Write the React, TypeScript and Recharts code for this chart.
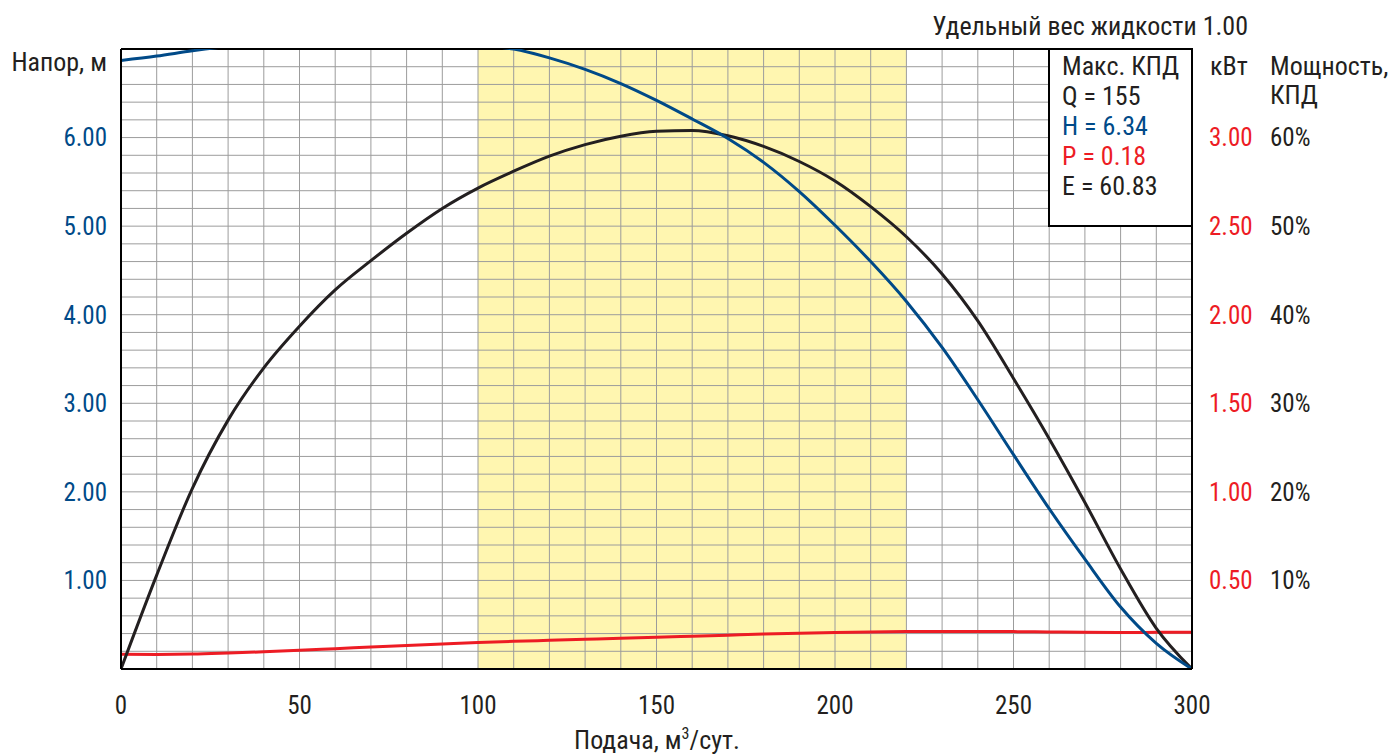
import React from 'react'
import { ComposedChart, Line, XAxis, YAxis, CartesianGrid, ReferenceLine } from 'recharts'

// подача, м3/сут.
const flow = [0, 10, 20, 30, 40, 50, 60, 70, 80, 90, 100, 110, 120, 130, 140, 150, 160, 170, 180, 190, 200, 210, 220, 230, 240, 250, 260, 270, 280, 290, 300]
// напор, м
const head = [6.87, 6.92, 6.98, 7.03, 7.07, 7.1, 7.12, 7.12, 7.11, 7.08, 7.04, 7.0, 6.9, 6.77, 6.61, 6.42, 6.21, 5.99, 5.72, 5.39, 5.01, 4.6, 4.15, 3.63, 3.04, 2.42, 1.81, 1.24, 0.7, 0.29, 0]
// мощность, кВт
const power = [0.083, 0.082, 0.084, 0.09, 0.097, 0.106, 0.115, 0.124, 0.133, 0.141, 0.149, 0.156, 0.162, 0.168, 0.174, 0.179, 0.185, 0.191, 0.197, 0.202, 0.206, 0.209, 0.211, 0.212, 0.212, 0.211, 0.209, 0.207, 0.206, 0.207, 0.208]
// КПД, %
const eff = [0, 10.6, 20.4, 28.1, 34, 38.7, 42.8, 46.1, 49.2, 52, 54.3, 56.2, 57.9, 59.2, 60.15, 60.7, 60.8, 60.2, 59, 57.3, 55.1, 52.2, 48.8, 44.6, 39.3, 32.8, 26, 18.8, 11.3, 4.6, 0]

const xTicks = Array.from({ length: 31 }, (_, i) => i * 10)
const headTicks = Array.from({ length: 36 }, (_, i) => +(i * 0.2).toFixed(1))
const kwTicks = [0.5, 1, 1.5, 2, 2.5, 3]
const pctTicks = [10, 20, 30, 40, 50, 60]
const workRange = [100, 220]

const legendLines = [
  { text: 'Макс. КПД', color: '#231f20' },
  { text: 'Q = 155', color: '#231f20' },
  { text: 'H = 6.34', color: '#004a88' },
  { text: 'P = 0.18', color: '#ed1c24' },
  { text: 'E = 60.83', color: '#231f20' },
]

const rows = flow.map((q, i) => ({ q, head: head[i], power: power[i], eff: eff[i] }))

// полоса рабочего диапазона — заливка клеток сетки между делениями 100 и 220
const stripeFill = xTicks.map(t => (t >= workRange[0] && t < workRange[1] ? '#fff6b0' : '#ffffff'))

const FONT = "'Liberation Sans Narrow', 'Roboto Condensed', 'Arial Narrow', Roboto, sans-serif"
const BLUE = '#004a88'
const RED = '#ed1c24'
const INK = '#231f20'
const tickFont = { fontSize: 25, fontFamily: FONT }

export default function App() {
  return (
    <div style={{ position: 'absolute', left: 0, top: 0, width: 1395, height: 754, background: '#fff' }}>
      <ComposedChart width={1395} height={754} data={rows} margin={{ top: 49, right: 0, bottom: 0, left: 0 }}>
        <CartesianGrid yAxisId="h" stroke="#9c9c9c" strokeWidth={1} verticalFill={stripeFill} fillOpacity={1} />
        <XAxis dataKey="q" type="number" domain={[0, 300]} ticks={xTicks} interval={0} allowDataOverflow
          tickFormatter={v => (v % 50 === 0 ? String(v) : '')}
          height={85} tickLine={false} tickSize={0} tickMargin={27}
          axisLine={{ stroke: '#000', strokeWidth: 2 }} tick={{ ...tickFont, fill: INK }} />
        <YAxis yAxisId="h" orientation="left" width={121} domain={[0, 7]} ticks={headTicks} interval={0} allowDataOverflow
          tickFormatter={v => (v % 1 === 0 && v > 0 && v < 7 ? Number(v).toFixed(2) : '')}
          tickLine={false} tickSize={0} tickMargin={14}
          axisLine={{ stroke: '#000', strokeWidth: 2 }} tick={{ ...tickFont, fill: BLUE }} />
        <YAxis yAxisId="kw" orientation="right" width={78} domain={[0, 3.5]} ticks={kwTicks} interval={0} allowDataOverflow
          tickFormatter={v => Number(v).toFixed(2)}
          tickLine={false} tickSize={0} tickMargin={17}
          axisLine={{ stroke: '#000', strokeWidth: 2 }} tick={{ ...tickFont, fill: RED }} />
        <YAxis yAxisId="pct" orientation="right" width={125} domain={[0, 70]} ticks={pctTicks} interval={0} allowDataOverflow
          tickFormatter={v => `${v}%`}
          tickLine={false} tickSize={0} tickMargin={0}
          axisLine={false} tick={{ ...tickFont, fill: INK }} />
        <ReferenceLine yAxisId="h" y={7} stroke="#000" strokeWidth={2} />
        <Line yAxisId="kw" dataKey="power" type="monotone" stroke={RED} strokeWidth={3} dot={false} isAnimationActive={false} />
        <Line yAxisId="pct" dataKey="eff" type="monotone" stroke={INK} strokeWidth={3} dot={false} isAnimationActive={false} />
        <Line yAxisId="h" dataKey="head" type="monotone" stroke={BLUE} strokeWidth={3} dot={false} isAnimationActive={false} />
      </ComposedChart>
      <svg width={1395} height={754} style={{ position: 'absolute', left: 0, top: 0, pointerEvents: 'none' }}
        fontFamily={FONT} fontSize={26} fill={INK}>
        <text x={1248} y={35} textAnchor="end">Удельный вес жидкости 1.00</text>
        <text x={107} y={71} textAnchor="end">Напор, м</text>
        <text x={1210} y={75}>кВт</text>
        <text x={1270} y={75}>Мощность,</text>
        <text x={1270} y={104}>КПД</text>
        <rect x={1049} y={49} width={143} height={177} fill="#fff" stroke="#000" strokeWidth={2} />
        {legendLines.map(l => (
          <text key={l.text} x={1062} y={75 + legendLines.indexOf(l) * 30} fill={l.color}>{l.text}</text>
        ))}
        <text x={657} y={749} textAnchor="middle">
          Подача, м<tspan fontSize={16} dy={-10}>3</tspan><tspan dy={10}>/сут.</tspan>
        </text>
      </svg>
    </div>
  )
}
